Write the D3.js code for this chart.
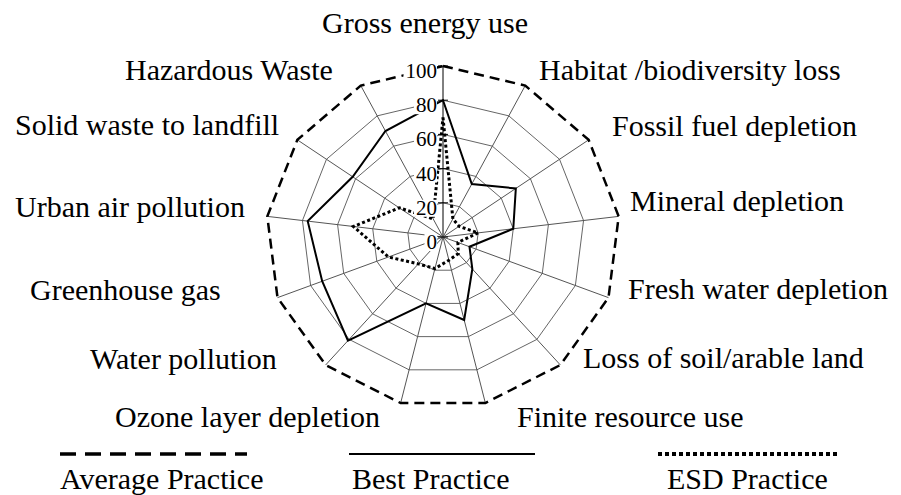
<!DOCTYPE html>
<html>
<head>
<meta charset="utf-8">
<script src="https://cdn.jsdelivr.net/npm/d3@7/dist/d3.min.js"></script>
<style>
  html, body { margin: 0; padding: 0; background: #fff; }
  svg { display: block; }
</style>
</head>
<body>
<svg id="chart" width="901" height="495"></svg>
<script>
// ---- data ----
const categories = [
  "Gross energy use", "Habitat /biodiversity loss", "Fossil fuel depletion",
  "Mineral depletion", "Fresh water depletion", "Loss of soil/arable land",
  "Finite resource use", "Ozone layer depletion", "Water pollution",
  "Greenhouse gas", "Urban air pollution", "Solid waste to landfill",
  "Hazardous Waste"
];
const averagePractice = [100, 100, 100, 100, 100, 100, 100, 100, 100, 100, 100, 100, 100];
const bestPractice    = [80, 35, 50, 40, 16, 25, 50, 40, 81, 73, 77, 62, 70];
const esdPractice     = [70, 12, 11, 20, 9, 13, 14, 19, 21, 33, 51, 30, 12];
const seriesNames = ["Average Practice", "Best Practice", "ESD Practice"];
const tickValues = [0, 20, 40, 60, 80, 100];
const tickLabels = ["0", "20", "40", "60", "80", "100"];

// ---- layout ----
const FONT = "'Liberation Serif', 'DejaVu Serif', serif";
const cx = 443, cy = 237, R = 171, sx = 1.035;
// label text start / baseline relative to the centre
const labelLayout = [
  [-121, -204], [96, -157], [169, -101], [187, -26], [185, 62], [140, 131],
  [74, 190], [-328, 190], [-353, 132], [-413, 63], [-428, -20], [-428, -102],
  [-318, -157]
];

const svg = d3.select("#chart").attr("font-family", FONT).style("font-family", FONT);
const r = d3.scaleLinear().domain([0, 100]).range([0, R]);
const n = categories.length;
const ang = d3.scaleLinear().domain([0, n]).range([0, 2 * Math.PI]);
const px = (i, v) => cx + sx * r(v) * Math.sin(ang(i));
const py = (i, v) => cy - r(v) * Math.cos(ang(i));

const poly = d3.line()
  .x(d => px(d.i, d.v))
  .y(d => py(d.i, d.v))
  .curve(d3.curveLinearClosed);
const toPts = vals => vals.map((v, i) => ({ i, v }));

// grid rings (20..80)
const g = svg.append("g");
g.selectAll("path.ring")
  .data(tickValues.filter(t => t > 0 && t < 100))
  .join("path")
  .attr("class", "ring")
  .attr("d", t => poly(categories.map((c, i) => ({ i, v: t }))))
  .attr("fill", "none")
  .attr("stroke", "#666")
  .attr("stroke-width", 1);

// spokes
g.selectAll("line.spoke")
  .data(categories)
  .join("line")
  .attr("class", "spoke")
  .attr("x1", cx).attr("y1", cy)
  .attr("x2", (c, i) => px(i, 100))
  .attr("y2", (c, i) => py(i, 100))
  .attr("stroke", (c, i) => i === 0 ? "#000" : "#555")
  .attr("stroke-width", 1);

// series
const series = [
  { name: seriesNames[0], values: averagePractice, dash: "10,6", width: 2.5 },
  { name: seriesNames[1], values: bestPractice, dash: null, width: 2 },
  { name: seriesNames[2], values: esdPractice, dash: "3,2.5", width: 3 }
];
svg.append("g").selectAll("path")
  .data(series)
  .join("path")
  .attr("d", s => poly(toPts(s.values)))
  .attr("fill", "none")
  .attr("stroke", "#000")
  .attr("stroke-width", s => s.width)
  .attr("stroke-dasharray", s => s.dash)
  .attr("stroke-linejoin", "miter");

// radial axis ticks and labels on top spoke
const ta = svg.append("g");
ta.selectAll("line")
  .data(tickValues)
  .join("line")
  .attr("x1", cx - 5).attr("x2", cx + 5)
  .attr("y1", t => cy - r(t)).attr("y2", t => cy - r(t))
  .attr("stroke", "#000").attr("stroke-width", 1);
const tl = ta.selectAll("g.tl")
  .data(tickValues)
  .join("g").attr("class", "tl");
tl.append("rect")
  .attr("x", (t, k) => cx - 7 - tickLabels[k].length * 10.5 - 1)
  .attr("y", t => cy - r(t) + 12 - 15)
  .attr("width", (t, k) => tickLabels[k].length * 10.5 + 2)
  .attr("height", 17)
  .attr("fill", "#fff");
tl.append("text")
  .attr("x", cx - 6)
  .attr("y", t => cy - r(t) + 12)
  .attr("text-anchor", "end")
  .attr("font-family", FONT)
  .attr("font-size", 21)
  .attr("fill", "#000")
  .text((t, k) => tickLabels[k]);

// category labels
svg.append("g").selectAll("text")
  .data(categories)
  .join("text")
  .attr("x", (c, i) => cx + labelLayout[i][0])
  .attr("y", (c, i) => cy + labelLayout[i][1])
  .attr("font-family", FONT)
  .attr("font-size", 30)
  .attr("fill", "#000")
  .text(c => c);

// legend
const legendX = [60, 349, 658];
const legendTextX = [60, 352, 667];
const legendW = [187, 186, 181];
const leg = svg.append("g");
const legendDash = ["16,9", null, "4,3"];
const legendWidth = [3.5, 2, 4];
series.forEach((s, k) => {
  leg.append("line")
    .attr("x1", legendX[k]).attr("x2", legendX[k] + legendW[k])
    .attr("y1", 454).attr("y2", 454)
    .attr("stroke", "#000")
    .attr("stroke-width", legendWidth[k])
    .attr("stroke-dasharray", legendDash[k]);
  leg.append("text")
    .attr("x", legendTextX[k]).attr("y", 489)
    .attr("font-family", FONT)
    .attr("font-size", 30)
    .attr("fill", "#000")
    .text(s.name);
});
</script>
</body>
</html>
